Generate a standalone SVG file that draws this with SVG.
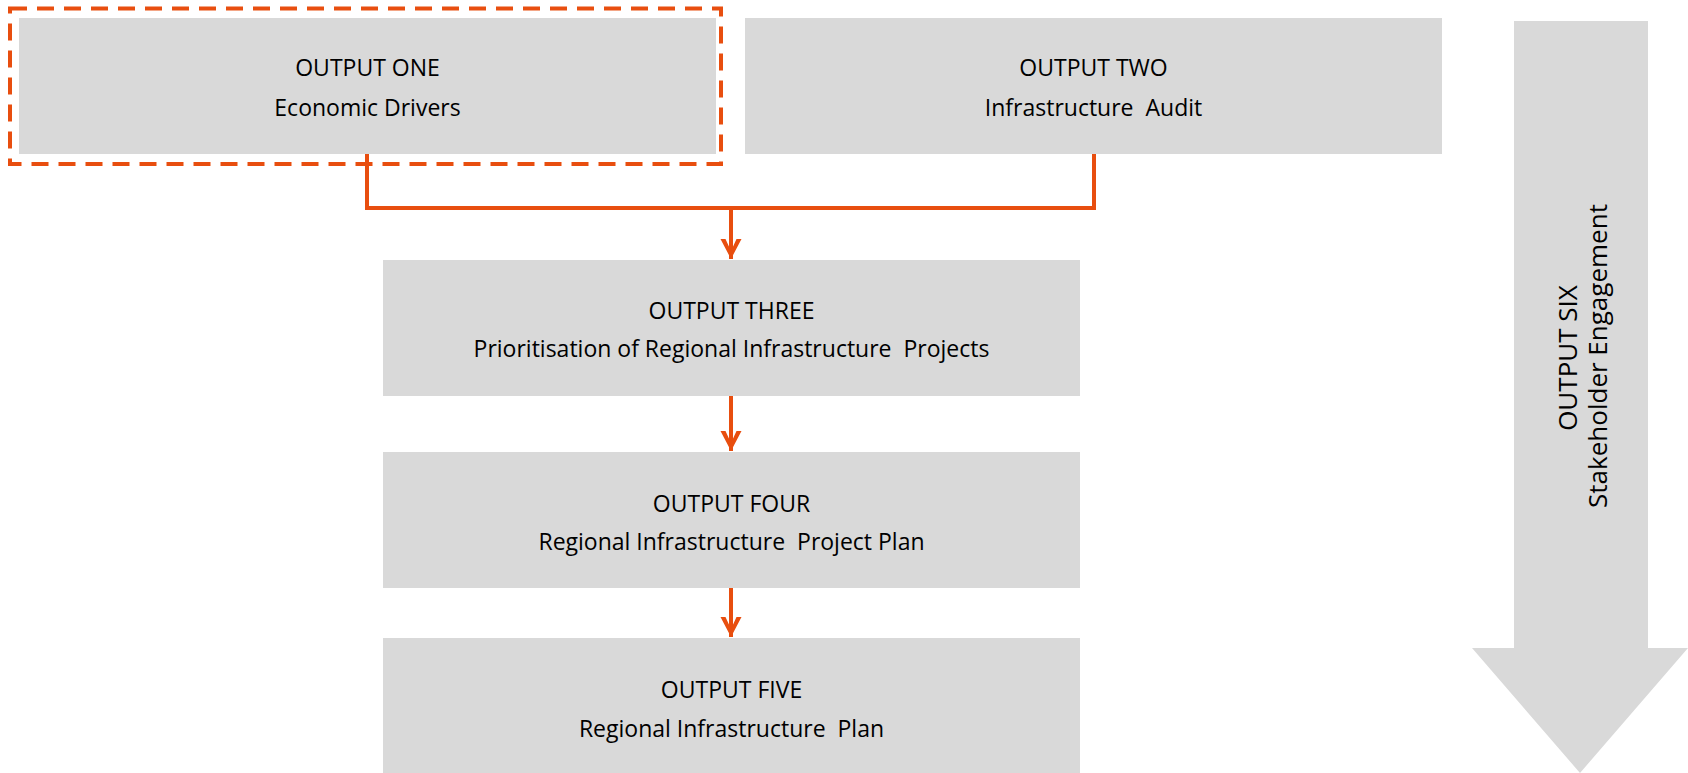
<svg xmlns="http://www.w3.org/2000/svg" width="1688" height="773" viewBox="0 0 1688 773">
<defs>
<style>
.box{fill:#D9D9D9;}
.t{font-family:"Open Sans","Liberation Sans",sans-serif;font-size:23px;font-weight:500;fill:#000;text-anchor:middle;white-space:pre;}
.v{font-family:"Open Sans","Liberation Sans",sans-serif;font-size:26px;font-weight:500;fill:#000;text-anchor:middle;white-space:pre;}
.con{fill:none;stroke:#E84E0F;stroke-width:4;}
.dash{fill:none;stroke:#E84E0F;stroke-width:4;stroke-dasharray:17 10;}
</style>
<marker id="ah" viewBox="-20 -11 21 22" refX="0" refY="0" markerWidth="21" markerHeight="22" markerUnits="userSpaceOnUse" orient="auto">
<path d="M0,0 L-20,-10.5 L-20,-5.5 L-8,0 L-20,5.5 L-20,10.5 Z" fill="#E84E0F"/>
</marker>
</defs>
<rect width="1688" height="773" fill="#fff"/>
<g id="node-one">
<rect class="box" x="19" y="18" width="697" height="136"/>
<rect class="dash" x="10" y="8.5" width="711" height="155.5"/>
<text class="t" x="367.5" y="76">OUTPUT ONE</text>
<text class="t" x="367.5" y="116">Economic Drivers</text>
</g>
<g id="node-two">
<rect class="box" x="745" y="18" width="697" height="136"/>
<text class="t" x="1093.5" y="76">OUTPUT TWO</text>
<text class="t" x="1093.5" y="116">Infrastructure  Audit</text>
</g>
<g id="node-three">
<rect class="box" x="383" y="260" width="697" height="136"/>
<text class="t" x="731.5" y="319">OUTPUT THREE</text>
<text class="t" x="731.5" y="357">Prioritisation of Regional Infrastructure  Projects</text>
</g>
<g id="node-four">
<rect class="box" x="383" y="452" width="697" height="136"/>
<text class="t" x="731.5" y="512">OUTPUT FOUR</text>
<text class="t" x="731.5" y="550">Regional Infrastructure  Project Plan</text>
</g>
<g id="node-five">
<rect class="box" x="383" y="638" width="697" height="135"/>
<text class="t" x="731.5" y="698">OUTPUT FIVE</text>
<text class="t" x="731.5" y="737">Regional Infrastructure  Plan</text>
</g>
<g id="node-six">
<polygon class="box" points="1514,21 1648,21 1648,648 1688,648 1580,773 1472,648 1514,648"/>
<text class="v" transform="translate(1577,358) rotate(-90)">OUTPUT SIX</text>
<text class="v" transform="translate(1607,356) rotate(-90)">Stakeholder Engagement</text>
</g>
<g id="connectors">
<polyline class="con" points="367,154 367,208 1094,208 1094,154"/>
<line class="con" x1="731" y1="208" x2="731" y2="259" marker-end="url(#ah)"/>
<line class="con" x1="731" y1="396" x2="731" y2="451" marker-end="url(#ah)"/>
<line class="con" x1="731" y1="588" x2="731" y2="637" marker-end="url(#ah)"/>
</g>
</svg>
